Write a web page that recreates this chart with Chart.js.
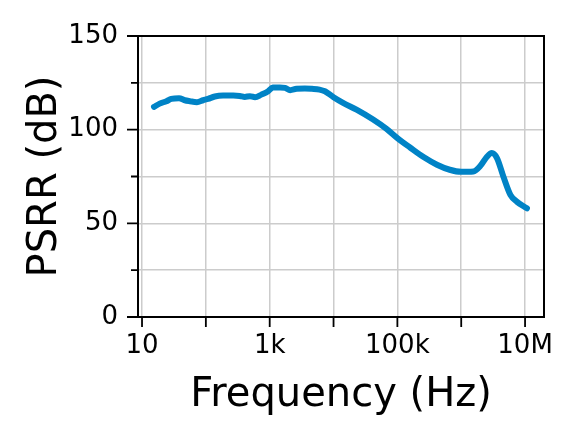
<!DOCTYPE html>
<html>
<head>
<meta charset="utf-8">
<script src="https://cdn.jsdelivr.net/npm/chart.js@4"></script>
<style>
  html, body { margin: 0; padding: 0; background: #ffffff; }
  #wrap { width: 576px; height: 442px; }
</style>
</head>
<body>
<div id="wrap"><canvas id="psrrChart" width="576" height="442"></canvas></div>
<script>
// PSRR vs frequency
const freqHz = [15.4, 18.9, 24.1, 28.8, 38.0, 46.8, 56.2, 72.4, 90.6, 108, 138, 186, 269, 339, 407, 490,
    589, 741, 946, 1120, 1450, 1740, 2090, 2630, 3550, 4570, 6030, 7330, 10000, 14100, 22900, 41700,
    67600, 100000, 158000, 257000, 417000, 661000, 1000000, 1550000, 2000000, 2510000, 3020000,
    3630000, 4570000, 5890000, 7410000, 10700000];
const psrrDb = [112.2, 113.9, 115.2, 116.4, 116.8, 115.7, 115.2, 114.7, 115.7, 116.4, 117.7, 118.2, 118.2, 118.0, 117.5, 117.9,
    117.3, 118.7, 120.5, 122.5, 122.5, 122.3, 121.1, 121.8, 122.0, 121.8, 121.4, 120.5, 117.3, 114.3, 110.7, 105.4,
    100.4, 95.5, 90.5, 85.4, 81.3, 78.6, 77.5, 77.7, 80.7, 85.4, 87.5,
    84.8, 75.0, 65.2, 61.6, 58.0];

const xTicks = [10, 100, 1e3, 1e4, 1e5, 1e6, 1e7];
const xTickLabels = ['10', '', '1k', '', '100k', '', '10M'];
const yTicks = [0, 25, 50, 75, 100, 125, 150];
const yTickLabels = ['0', '', '50', '', '100', '', '150'];

document.addEventListener('DOMContentLoaded', function() {
    Chart.defaults.font.family = '"DejaVu Sans", sans-serif';
    Chart.defaults.color = '#000000';

    const lineBlue = '#0083C6';
    const gridGray = '#cccccc';

    // frame box + tick marks (minor y ticks are shorter)
    const framePlugin = {
        id: 'frame',
        afterDraw(chart) {
            const ctx = chart.ctx;
            const a = chart.chartArea;
            const xs = chart.scales.x;
            const ys = chart.scales.y;
            ctx.save();
            ctx.strokeStyle = '#000000';
            ctx.lineWidth = 2;
            ctx.strokeRect(a.left, a.top, a.right - a.left, a.bottom - a.top);
            ctx.lineWidth = 1.8;
            ctx.beginPath();
            xTicks.forEach(function(v) {
                const px = xs.getPixelForValue(v);
                ctx.moveTo(px, a.bottom);
                ctx.lineTo(px, a.bottom + 10);
            });
            yTicks.forEach(function(v, i) {
                const py = ys.getPixelForValue(v);
                const len = yTickLabels[i] ? 11 : 7;
                ctx.moveTo(a.left, py);
                ctx.lineTo(a.left - len, py);
            });
            ctx.stroke();
            ctx.restore();
        }
    };

    new Chart(document.getElementById('psrrChart'), {
        type: 'line',
        data: {
            datasets: [{
                label: 'PSRR',
                data: freqHz.map(function(f, i) { return { x: f, y: psrrDb[i] }; }),
                borderColor: lineBlue,
                backgroundColor: lineBlue,
                borderWidth: 6,
                pointRadius: 0,
                fill: false,
                cubicInterpolationMode: 'monotone',
                borderCapStyle: 'round',
                borderJoinStyle: 'round'
            }]
        },
        options: {
            responsive: false,
            animation: false,
            layout: {
                padding: { top: 36, right: 32, left: 0, bottom: 0 }
            },
            plugins: {
                legend: { display: false },
                tooltip: { enabled: false }
            },
            scales: {
                x: {
                    type: 'logarithmic',
                    min: 8.65,
                    max: 1.98e7,
                    afterBuildTicks: function(scale) {
                        scale.ticks = xTicks.map(function(v) { return { value: v }; });
                    },
                    afterFit: function(scale) { scale.height = 125; },
                    grid: {
                        color: gridGray,
                        lineWidth: 1.5,
                        drawTicks: false
                    },
                    border: { display: false },
                    ticks: {
                        autoSkip: false,
                        maxRotation: 0,
                        padding: 14,
                        font: { size: 26 },
                        callback: function(value) {
                            const i = xTicks.indexOf(value);
                            return i >= 0 ? xTickLabels[i] : '';
                        }
                    },
                    title: {
                        display: true,
                        text: 'Frequency (Hz)',
                        font: { size: 40 },
                        padding: { top: 0, bottom: 22 }
                    }
                },
                y: {
                    min: 0,
                    max: 150,
                    afterBuildTicks: function(scale) {
                        scale.ticks = yTicks.map(function(v) { return { value: v }; });
                    },
                    afterFit: function(scale) { scale.width = 138; },
                    grid: {
                        color: gridGray,
                        lineWidth: 1.5,
                        drawTicks: false
                    },
                    border: { display: false },
                    ticks: {
                        padding: 20,
                        font: { size: 26 },
                        callback: function(value) {
                            const i = yTicks.indexOf(value);
                            return i >= 0 ? yTickLabels[i] : '';
                        }
                    },
                    title: {
                        display: true,
                        text: 'PSRR (dB)',
                        font: { size: 40 },
                        padding: { top: 22, bottom: 0 }
                    }
                }
            }
        },
        plugins: [framePlugin]
    });
});
</script>
</body>
</html>
